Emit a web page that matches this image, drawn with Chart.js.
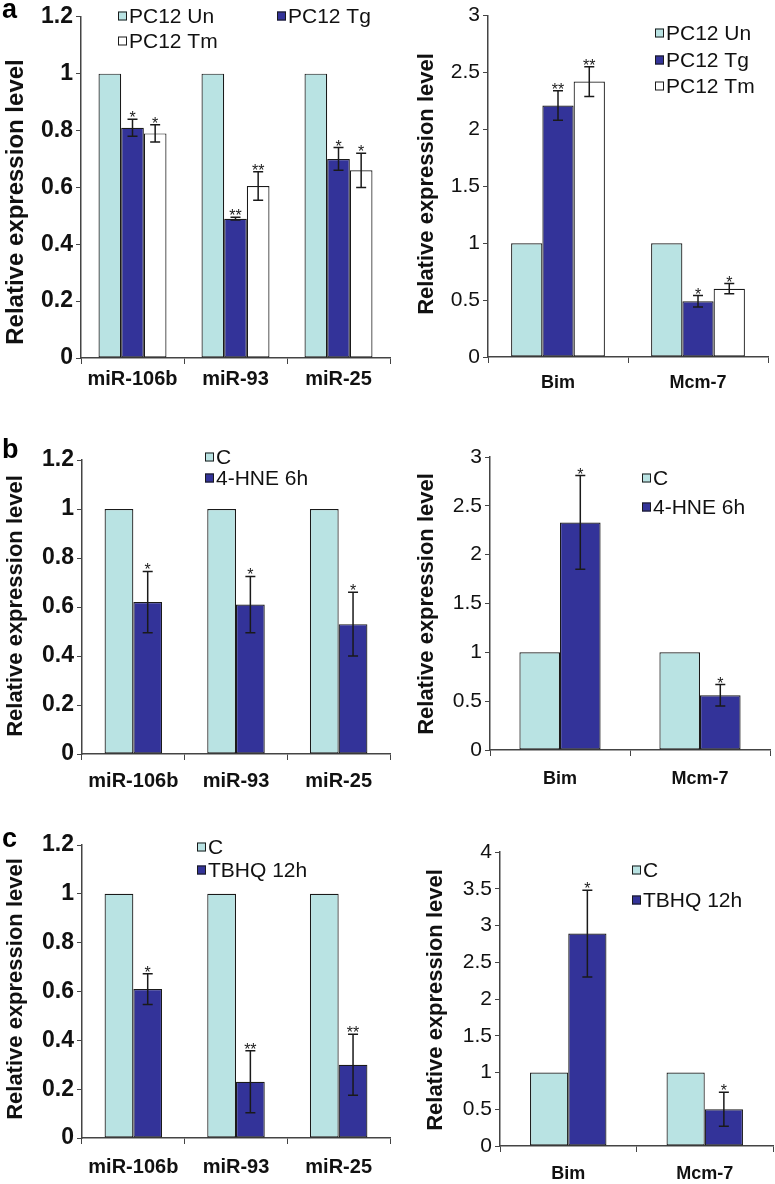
<!DOCTYPE html>
<html lang="en">
<head>
  <meta charset="UTF-8">
  <title>Relative expression level</title>
  <script src="https://cdn.jsdelivr.net/npm/chart.js"></script>
  <style>
    body {
      margin: 0;
      background: #fff;
      font-family: "Liberation Sans", Arial, sans-serif;
    }
    .figure {
      position: relative;
      width: 775px;
      height: 1184px;
    }
    .figure canvas {
      position: absolute;
    }
  </style>
</head>
<body>

  <div class="figure">
    <canvas id="aLeft" width="395" height="395" style="left:0;top:0"></canvas>
    <canvas id="aRight" width="380" height="395" style="left:395px;top:0"></canvas>
    <canvas id="bLeft" width="395" height="360" style="left:0;top:430px"></canvas>
    <canvas id="bRight" width="380" height="360" style="left:395px;top:430px"></canvas>
    <canvas id="cLeft" width="395" height="369" style="left:0;top:815px"></canvas>
    <canvas id="cRight" width="380" height="369" style="left:395px;top:815px"></canvas>
  </div>

  <script>
    // categories
    const miRNAs = ['miR-106b', 'miR-93', 'miR-25'];
    const genes = ['Bim', 'Mcm-7'];

    // panel a: PC12 untreated / thapsigargin / tunicamycin
    const aMiUn = [1, 1, 1];
    const aMiTg = [0.81, 0.49, 0.70];
    const aMiTgErr = [0.03, 0.005, 0.04];
    const aMiTgStars = ['*', '**', '*'];
    const aMiTm = [0.79, 0.605, 0.66];
    const aMiTmErr = [0.03, 0.05, 0.06];
    const aMiTmStars = ['*', '**', '*'];

    const aGeneUn = [1, 1];
    const aGeneTg = [2.21, 0.49];
    const aGeneTgErr = [0.13, 0.05];
    const aGeneTgStars = ['**', '*'];
    const aGeneTm = [2.42, 0.60];
    const aGeneTmErr = [0.13, 0.045];
    const aGeneTmStars = ['**', '*'];

    // panel b: control / 4-HNE
    const bMiC = [1, 1, 1];
    const bMiHne = [0.62, 0.61, 0.53];
    const bMiHneErr = [0.125, 0.115, 0.13];
    const bMiHneStars = ['*', '*', '*'];
    const bGeneC = [1, 1];
    const bGeneHne = [2.33, 0.56];
    const bGeneHneErr = [0.48, 0.11];
    const bGeneHneStars = ['*', '*'];

    // panel c: control / TBHQ
    const cMiC = [1, 1, 1];
    const cMiTbhq = [0.61, 0.23, 0.30];
    const cMiTbhqErr = [0.063, 0.127, 0.125];
    const cMiTbhqStars = ['*', '**', '**'];
    const cGeneC = [1, 1];
    const cGeneTbhq = [2.89, 0.50];
    const cGeneTbhqErr = [0.59, 0.23];
    const cGeneTbhqStars = ['*', '*'];

    const LIGHT = '#b9e3e3';
    const DARK = '#333399';
    const WHITE = '#ffffff';
    const INK = '#1a1a1a';
    const FONT = '"Liberation Sans", Arial, sans-serif';

    // error bars, stars, panel letter, y title and legend
    const extras = {
      id: 'extras',
      afterDatasetsDraw(chart) {
        const ctx = chart.ctx;
        const y = chart.scales.y;
        ctx.save();
        chart.data.datasets.forEach((ds, i) => {
          if (!ds.errors) return;
          const meta = chart.getDatasetMeta(i);
          meta.data.forEach((bar, j) => {
            const v = ds.data[j];
            const e = ds.errors[j];
            const top = y.getPixelForValue(v + e);
            const bot = y.getPixelForValue(v - e);
            const x = bar.x;
            ctx.strokeStyle = INK;
            ctx.lineWidth = 1.5;
            ctx.beginPath();
            ctx.moveTo(x, top); ctx.lineTo(x, bot);
            ctx.moveTo(x - 5, top); ctx.lineTo(x + 5, top);
            ctx.moveTo(x - 5, bot); ctx.lineTo(x + 5, bot);
            ctx.stroke();
            if (ds.stars) {
              ctx.fillStyle = INK;
              ctx.font = '16px ' + FONT;
              ctx.textAlign = 'center';
              ctx.textBaseline = 'alphabetic';
              ctx.fillText(ds.stars[j], x, top + 4);
            }
          });
        });
        ctx.restore();
      },
      afterDraw(chart, args, opts) {
        const ctx = chart.ctx;
        ctx.save();
        if (opts.letter) {
          ctx.fillStyle = '#000';
          ctx.font = 'bold 27px ' + FONT;
          ctx.textAlign = 'left';
          ctx.textBaseline = 'alphabetic';
          ctx.fillText(opts.letter.text, opts.letter.x, opts.letter.y);
        }
        // rotated axis title
        ctx.translate(opts.title.x, opts.title.y);
        ctx.rotate(-Math.PI / 2);
        ctx.fillStyle = '#111';
        ctx.font = 'bold ' + opts.title.size + 'px ' + FONT;
        ctx.textAlign = 'center';
        ctx.textBaseline = 'middle';
        ctx.fillText('Relative expression level', 0, 0);
        ctx.setTransform(1, 0, 0, 1, 0, 0);
        // legend
        ctx.font = opts.legendSize + 'px ' + FONT;
        ctx.textAlign = 'left';
        ctx.textBaseline = 'middle';
        chart.data.datasets.forEach((ds, i) => {
          const pos = opts.legend[i];
          ctx.fillStyle = ds.backgroundColor;
          ctx.fillRect(pos.x, pos.y - 4.5, 9, 9);
          ctx.strokeStyle = INK;
          ctx.lineWidth = 1;
          ctx.strokeRect(pos.x + 0.5, pos.y - 4, 8, 8);
          ctx.fillStyle = '#111';
          ctx.fillText(ds.label, pos.x + 11, pos.y + 1);
        });
        ctx.restore();
      }
    };

    function series(label, data, color, errors, stars) {
      return { label, data, backgroundColor: color, errors, stars };
    }

    function panel(id, labels, datasets, p) {
      return new Chart(document.getElementById(id), {
        type: 'bar',
        data: { labels, datasets },
        options: {
          responsive: false,
          animation: false,
          layout: { padding: { top: p.padTop, right: p.padRight, left: 0, bottom: 0 } },
          datasets: {
            bar: {
              categoryPercentage: p.catPct,
              barPercentage: 1,
              borderWidth: 1.2,
              borderColor: INK,
              borderSkipped: false
            }
          },
          plugins: {
            legend: { display: false },
            tooltip: { enabled: false },
            extras: p.extras
          },
          scales: {
            x: {
              grid: { drawOnChartArea: false, drawTicks: true, tickLength: 6, color: '#444', offset: true },
              border: { color: '#444', width: 1.5 },
              ticks: { color: '#111', padding: p.xPad, font: { family: FONT, size: p.xSize, weight: 'bold' } },
              afterFit: s => { s.height = p.xH; }
            },
            y: {
              min: 0,
              max: p.max,
              grid: { drawOnChartArea: false, drawTicks: true, tickLength: 5, color: '#444' },
              border: { color: '#444', width: 1.5 },
              ticks: {
                stepSize: p.step,
                color: '#111',
                padding: 3,
                font: { family: FONT, size: p.ySize, weight: p.yWeight },
                callback: v => String(Math.round(v * 10) / 10)
              },
              afterFit: s => { s.width = p.yW; }
            }
          }
        },
        plugins: [extras]
      });
    }

    panel('aLeft', miRNAs, [
      series('PC12 Un', aMiUn, LIGHT),
      series('PC12 Tg', aMiTg, DARK, aMiTgErr, aMiTgStars),
      series('PC12 Tm', aMiTm, WHITE, aMiTmErr, aMiTmStars)
    ], {
      padTop: 12, padRight: 5, yW: 81, xH: 37, xPad: 3, catPct: 0.66,
      max: 1.2, step: 0.2, ySize: 23, yWeight: 'bold', xSize: 20,
      extras: {
        letter: { text: 'a', x: 2, y: 18 },
        title: { x: 16, y: 202, size: 24 },
        legendSize: 21,
        legend: [{ x: 118, y: 16 }, { x: 277, y: 16 }, { x: 118, y: 41 }]
      }
    });

    panel('aRight', genes, [
      series('PC12 Un', aGeneUn, LIGHT),
      series('PC12 Tg', aGeneTg, DARK, aGeneTgErr, aGeneTgStars),
      series('PC12 Tm', aGeneTm, WHITE, aGeneTmErr, aGeneTmStars)
    ], {
      padTop: 10, padRight: 7, yW: 93, xH: 38, xPad: 9, catPct: 0.67,
      max: 3, step: 0.5, ySize: 21, yWeight: 'normal', xSize: 18,
      extras: {
        title: { x: 32, y: 184, size: 22 },
        legendSize: 21,
        legend: [{ x: 260, y: 33 }, { x: 260, y: 60 }, { x: 260, y: 86 }]
      }
    });

    panel('bLeft', miRNAs, [
      series('C', bMiC, LIGHT),
      series('4-HNE 6h', bMiHne, DARK, bMiHneErr, bMiHneStars)
    ], {
      padTop: 30, padRight: 5, yW: 82, xH: 36, xPad: 9, catPct: 0.56,
      max: 1.2, step: 0.2, ySize: 23, yWeight: 'bold', xSize: 20,
      extras: {
        letter: { text: 'b', x: 2, y: 28 },
        title: { x: 16, y: 176, size: 22 },
        legendSize: 21,
        legend: [{ x: 205, y: 27 }, { x: 205, y: 48 }]
      }
    });

    panel('bRight', genes, [
      series('C', bGeneC, LIGHT),
      series('4-HNE 6h', bGeneHne, DARK, bGeneHneErr, bGeneHneStars)
    ], {
      padTop: 27, padRight: 5, yW: 95, xH: 40, xPad: 12, catPct: 0.58,
      max: 3, step: 0.5, ySize: 21, yWeight: 'normal', xSize: 18,
      extras: {
        title: { x: 32, y: 174, size: 22 },
        legendSize: 21,
        legend: [{ x: 247, y: 48 }, { x: 247, y: 77 }]
      }
    });

    panel('cLeft', miRNAs, [
      series('C', cMiC, LIGHT),
      series('TBHQ 12h', cMiTbhq, DARK, cMiTbhqErr, cMiTbhqStars)
    ], {
      padTop: 30, padRight: 5, yW: 82, xH: 46, xPad: 11, catPct: 0.56,
      max: 1.2, step: 0.2, ySize: 23, yWeight: 'bold', xSize: 20,
      extras: {
        letter: { text: 'c', x: 2, y: 32 },
        title: { x: 16, y: 174, size: 22 },
        legendSize: 21,
        legend: [{ x: 197, y: 32 }, { x: 197, y: 55 }]
      }
    });

    panel('cRight', genes, [
      series('C', cGeneC, LIGHT),
      series('TBHQ 12h', cGeneTbhq, DARK, cGeneTbhqErr, cGeneTbhqStars)
    ], {
      padTop: 37, padRight: 2, yW: 105, xH: 38, xPad: 11, catPct: 0.56,
      max: 4, step: 0.5, ySize: 21, yWeight: 'normal', xSize: 18,
      extras: {
        title: { x: 41, y: 185, size: 22 },
        legendSize: 21,
        legend: [{ x: 237, y: 55 }, { x: 237, y: 85 }]
      }
    });
  </script>
</body>
</html>
